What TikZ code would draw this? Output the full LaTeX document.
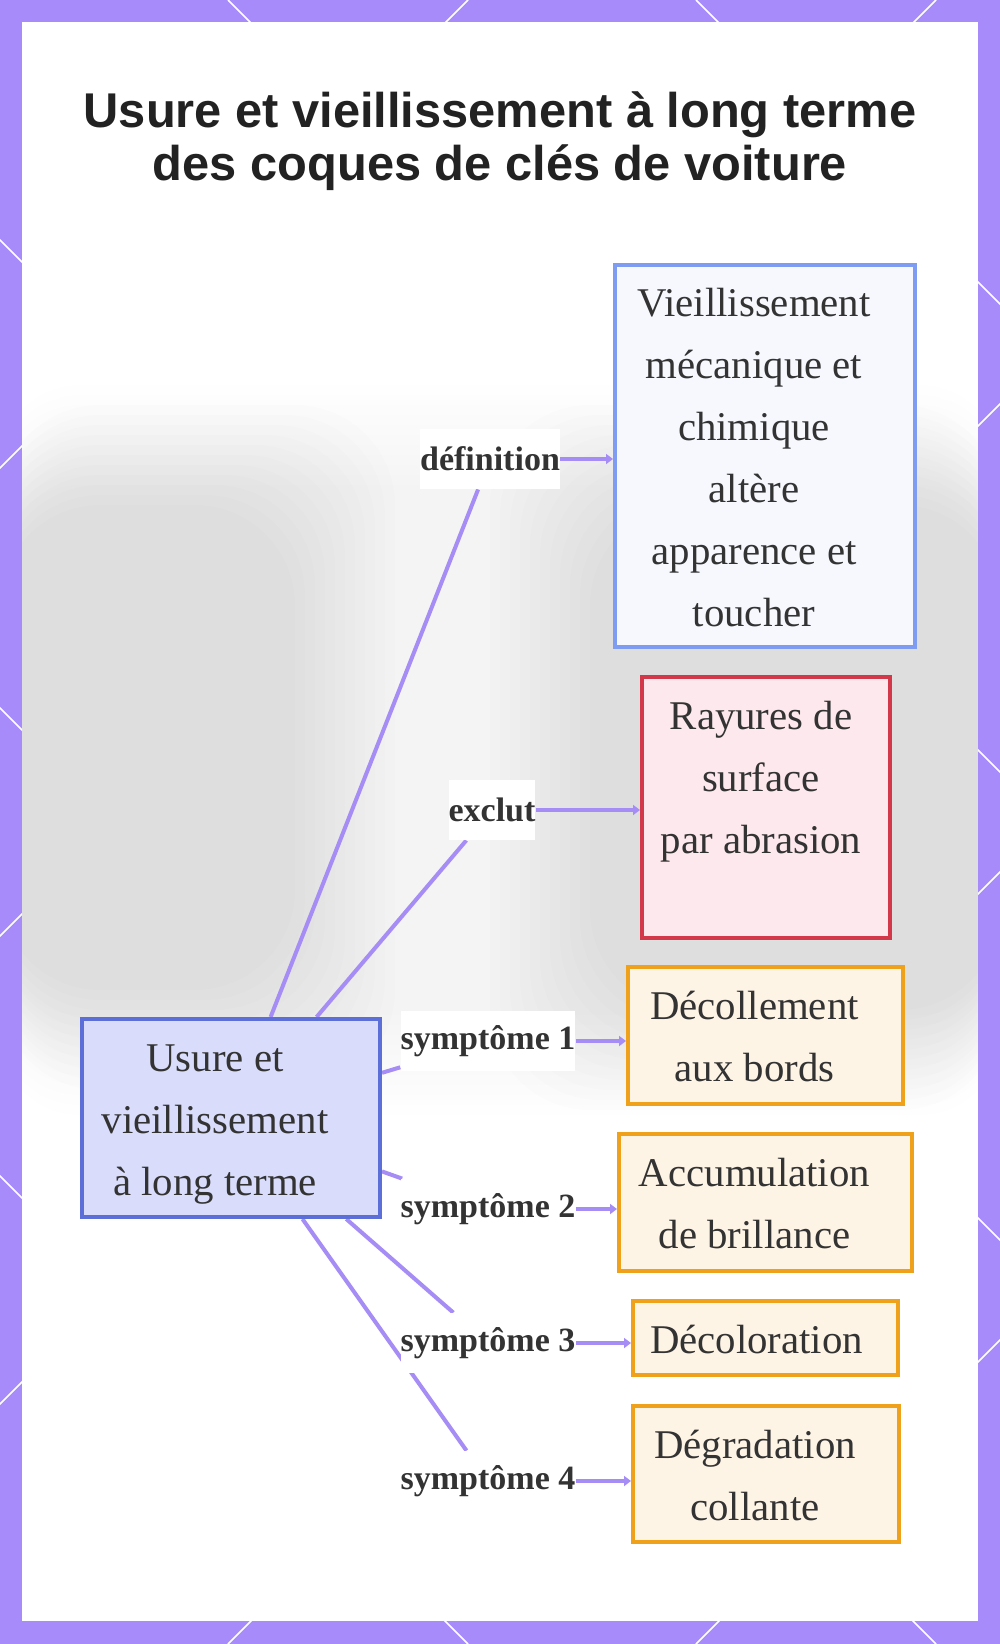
\documentclass[tikz,border=0pt]{standalone}
\usepackage{fontspec}
\setmainfont{Liberation Serif}
\newfontfamily\titlefont{Liberation Sans}
\usetikzlibrary{arrows.meta,positioning}
\pgfdeclarelayer{back}
\pgfdeclarelayer{edges}
\pgfsetlayers{back,edges,main}

\definecolor{framepurple}{HTML}{A78BFA}
\definecolor{linkpurple}{HTML}{A68CF5}
\definecolor{ink}{HTML}{333333}
\definecolor{titleink}{HTML}{222222}
\definecolor{coreblue}{HTML}{5C6FD8}
\definecolor{corefill}{HTML}{D9DDFB}
\definecolor{defblue}{HTML}{7E9CF2}
\definecolor{deffill}{HTML}{F6F8FE}
\definecolor{exred}{HTML}{D2384A}
\definecolor{exfill}{HTML}{FDE9ED}
\definecolor{symorange}{HTML}{F0A11C}
\definecolor{symfill}{HTML}{FEF4E6}

% box text, nudged left by half of the right pad
\newcommand{\padtext}[2][11pt]{\raisebox{-1.5pt}[\height][\depth]{\begin{tabular}{@{}c@{\hspace{#1}}}#2\end{tabular}}}

\begin{document}
\begin{tikzpicture}[x=0.5pt,y=-0.5pt]
\tikzstyle{every node}+=[inner sep=0pt, text=ink]
\tikzstyle{box}=[draw, line width=2pt, font=\fontsize{20.4}{31}\selectfont]
\tikzstyle{symbox}=[box, draw=symorange, fill=symfill]
\tikzstyle{lab}=[fill=white, minimum height=30pt, font=\bfseries\fontsize{17}{20}\selectfont]
\tikzstyle{link}=[draw=linkpurple, line width=2pt]
\tikzstyle{tip}=[link, -{Triangle[length=3.5pt,width=5pt]}]
\useasboundingbox (0,0) rectangle (1000,1644);
% frame and backdrop
\begin{pgfonlayer}{back}
\fill[framepurple] (0,0) rectangle (1000,1644);
\begin{scope}
\clip (0,0) rectangle (1000,1644);
\foreach \c in {468,936,1404,1872,2340}
  \draw[white, line width=0.8pt] (\c,0) -- ++(-1644,1644);
\foreach \c in {-1176,-708,-240,228,696}
  \draw[white, line width=0.8pt] (\c,0) -- ++(1644,1644);
\end{scope}
\fill[white] (22,22) rectangle (978,1621);
\begin{scope}
\clip (22,22) rectangle (978,1621);
\foreach \g in {0,10,...,100} {
  \fill[black, opacity=0.0045, rounded corners=40pt] (0,385+\g) rectangle (1000,1115-\g);
  \fill[black, opacity=0.0065, rounded corners=50pt] (0,405+\g) rectangle (395-\g,1090-\g);
  \fill[black, opacity=0.0065, rounded corners=50pt] (490+\g,405+\g) rectangle (1000,1110-\g);
}
\end{scope}
\end{pgfonlayer}

\node[font=\titlefont\bfseries\fontsize{24.4}{26.5}\selectfont, align=center, text=titleink] (title) at (500,141.5)
  {Usure et vieillissement à long terme\\des coques de clés de voiture};

\node[box, draw=coreblue, fill=corefill, minimum width=149pt, minimum height=99pt] (core) at (231,1118)
  {\padtext[16pt]{Usure et\\vieillissement\\à long terme}};
\node[box, draw=defblue, fill=deffill, minimum width=150pt, minimum height=191pt] (defn) at (765,456)
  {\padtext{Vieillissement\\mécanique et\\chimique\\altère\\apparence et\\toucher}};
\node[box, draw=exred, fill=exfill, minimum width=124pt, minimum height=130.5pt] (excl) at (766,807.5)
  {\padtext[5pt]{Rayures de\\surface\\par abrasion\\~}};
\node[symbox, minimum width=137.5pt, minimum height=68.5pt] (sym1) at (765.5,1035.5) {\padtext{Décollement\\aux bords}};
\node[symbox, minimum width=146.5pt, minimum height=68.5pt] (sym2) at (765.5,1202.5) {\padtext{Accumulation\\de brillance}};
\node[symbox, minimum width=132.5pt, minimum height=37pt] (sym3) at (765.5,1338) {\padtext[9pt]{Décoloration}};
\node[symbox, minimum width=133pt, minimum height=68pt] (sym4) at (766,1474) {\padtext{Dégradation\\collante}};

\node[lab] (ldefn) at (490,459) {définition};
\node[lab] (lexcl) at (492,810) {exclut};
\node[lab] (lsym1) at (488,1041) {symptôme 1};
\node[lab] (lsym2) at (488,1209) {symptôme 2};
\node[lab] (lsym3) at (488,1343) {symptôme 3};
\node[lab] (lsym4) at (488,1481) {symptôme 4};

% edges: core to labels, under the labels
\begin{pgfonlayer}{edges}
\foreach \l in {ldefn,lexcl,lsym1,lsym2,lsym3,lsym4}
  \draw[link] (core) -- (\l);
\end{pgfonlayer}

\draw[tip] (ldefn.east) -- (ldefn.east -| defn.west);
\draw[tip] (lexcl.east) -- (lexcl.east -| excl.west);
\draw[tip] (lsym1.east) -- (lsym1.east -| sym1.west);
\draw[tip] (lsym2.east) -- (lsym2.east -| sym2.west);
\draw[tip] (lsym3.east) -- (lsym3.east -| sym3.west);
\draw[tip] (lsym4.east) -- (lsym4.east -| sym4.west);
\end{tikzpicture}
\end{document}
